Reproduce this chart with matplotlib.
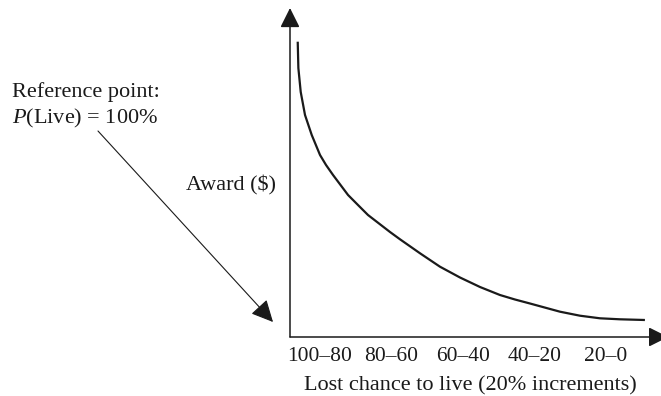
import matplotlib.pyplot as plt

plt.rcParams['font.family'] = 'Liberation Serif'
plt.rcParams['mathtext.fontset'] = 'custom'
plt.rcParams['mathtext.rm'] = 'Liberation Serif'
plt.rcParams['mathtext.it'] = 'Liberation Serif:italic'

# tick categories (lost chance to live, 20% steps)
categories = ["100\u201380", "80\u201360", "60\u201340", "40\u201320", "20\u20130"]
cat_pos = [0, 1, 2, 3, 4]

# award curve (x in category units, y in arbitrary award units)
curve_x = [-0.312, -0.303, -0.270, -0.210, -0.116, 0.0, 0.084, 0.182, 0.392, 0.531, 0.671, 0.979,
           1.119, 1.399, 1.678, 1.958, 2.238, 2.517, 2.727, 2.937, 3.357, 3.636, 3.916, 4.196, 4.545]
curve_y = [2.953, 2.69, 2.45, 2.22, 2.02, 1.82, 1.72, 1.62, 1.42, 1.32, 1.22, 1.05,
           0.977, 0.837, 0.703, 0.595, 0.50, 0.42, 0.375, 0.335, 0.253, 0.213, 0.187, 0.177, 0.17]

W, H = 661, 396
fig = plt.figure(figsize=(W / 100, H / 100), dpi=100)

# axes box spans from the y axis (px 290) to the right edge, x axis at px 337
ax = fig.add_axes([290 / W, (H - 337) / H, (W - 290) / W, (337 - 8) / H])
x0, x1 = -0.42, 4.77
y0, y1 = 0, 3.29
ax.set_xlim(x0, x1)
ax.set_ylim(y0, y1)
for s in ax.spines.values():
    s.set_visible(False)

ax.plot(curve_x, curve_y, color='#1a1a1a', lw=1.6, solid_capstyle='butt', solid_joinstyle='round')

ax.annotate('', xy=(x0, y1), xytext=(x0, y0), annotation_clip=False,
            arrowprops=dict(arrowstyle='-|>,head_length=0.4,head_width=0.2', mutation_scale=30,
                            color='#1a1a1a', lw=1.1, shrinkA=0, shrinkB=0))
ax.annotate('', xy=(4.87, y0), xytext=(x0, y0), annotation_clip=False,
            arrowprops=dict(arrowstyle='-|>,head_length=0.4,head_width=0.2', mutation_scale=30,
                            color='#1a1a1a', lw=1.1, shrinkA=0, shrinkB=0))

ax.set_xticks(cat_pos)
ax.set_xticklabels(categories, fontsize=15.5, color='#1a1a1a')
ax.tick_params(axis='x', length=0, pad=7)
ax.set_yticks([])
ax.set_xlabel('Lost chance to live (20% increments)', fontsize=16, color='#1a1a1a')
ax.xaxis.set_label_coords((470 - 290) / (W - 290), -0.118)

def fx(px):
    return px / W

def fy(py):
    return (H - py) / H

fig.text(fx(12), fy(92), 'Reference point:', fontsize=16, color='#1a1a1a', va='center', ha='left')
fig.text(fx(12), fy(118), r'$P$(Live) = 100%', fontsize=16, color='#1a1a1a', va='center', ha='left')
fig.text(fx(276), fy(185), r'Award (\$)', fontsize=16, color='#1a1a1a', va='center', ha='right')

ax.annotate('', xy=(fx(273), fy(322)), xytext=(fx(98), fy(131)),
            xycoords='figure fraction', textcoords='figure fraction',
            arrowprops=dict(arrowstyle='-|>,head_length=0.45,head_width=0.22', mutation_scale=30,
                            color='#1a1a1a', lw=0.8, shrinkA=0, shrinkB=0))

fig.savefig('out.png', dpi=100)
